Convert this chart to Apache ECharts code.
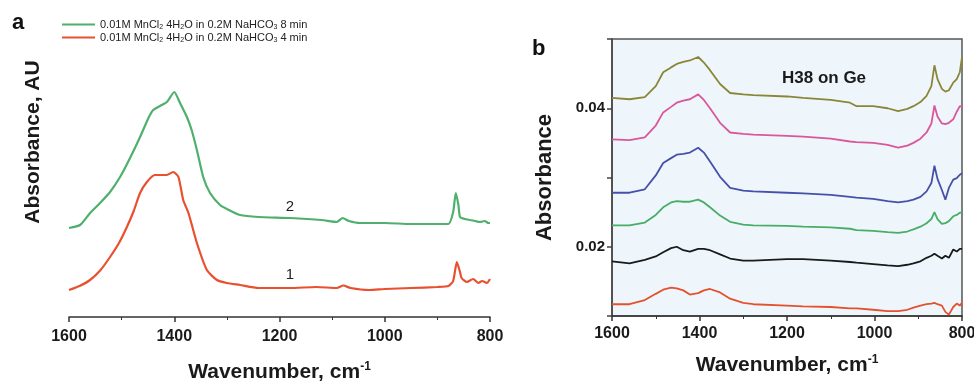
<!DOCTYPE html>
<html>
<head>
<meta charset="utf-8">
<script src="https://cdn.jsdelivr.net/npm/echarts@6/dist/echarts.min.js"></script>
<style>
  html, body { margin: 0; padding: 0; background: #fff; }
  #chart { width: 974px; height: 382px; }
</style>
</head>
<body>
<div id="chart"></div>
<script>
// panel a: MnCl2 on NaHCO3, arbitrary absorbance units
const wnA8 = [1600,1579,1560,1541,1522,1503,1484,1465,1449,1440,1427,1414,1400,1389,1376,1367,1357,1345,1332,1313,1300,1275,1240,1180,1120,1091,1080,1068,1047,1000,950,900,879,870,865,860,857,848,838,828,819,810,803,800]
const absA8 = [0.89,0.92,1.04,1.14,1.25,1.40,1.59,1.80,1.99,2.07,2.11,2.15,2.25,2.14,2.00,1.87,1.67,1.40,1.24,1.12,1.08,1.02,1.00,0.99,0.97,0.95,0.99,0.96,0.94,0.94,0.93,0.93,0.93,1.05,1.24,1.12,1.00,0.98,0.97,0.96,0.95,0.96,0.94,0.94]
const wnA4 = [1600,1580,1560,1540,1522,1505,1490,1477,1465,1452,1437,1425,1414,1402,1392,1383,1373,1357,1338,1319,1300,1275,1240,1180,1130,1091,1079,1065,1030,1000,950,900,879,870,863,857,854,844,832,822,815,806,800]
const absA4 = [0.27,0.31,0.37,0.47,0.60,0.74,0.90,1.06,1.24,1.35,1.42,1.42,1.42,1.45,1.40,1.17,1.04,0.74,0.47,0.37,0.34,0.32,0.29,0.29,0.30,0.29,0.315,0.29,0.27,0.28,0.29,0.30,0.31,0.36,0.55,0.45,0.39,0.35,0.38,0.34,0.36,0.34,0.38]
const namesA = ['8 min', '4 min']
const curveLabelsA = [[1180, 1.10, '2'], [1180, 0.42, '1']]

// panel b: H38 on Ge, shared wavenumber grid
const wnB = [1600,1560,1525,1500,1483,1465,1452,1437,1422,1403,1390,1376,1353,1330,1300,1277,1200,1163,1100,1056,1041,1003,970,946,925,911,895,881,870,863,856,846,838,830,820,812,805,800]
const olive = [.0415,.0413,.0416,.0432,.0452,.0459,.0464,.0467,.0469,.0474,.0466,.0455,.0435,.0422,.0420,.0419,.0417,.0415,.0412,.0408,.0403,.0403,.0400,.0396,.0399,.0403,.0409,.0418,.0432,.0462,.0442,.0428,.0424,.0426,.0437,.0442,.0452,.0474]
const pink = [.0355,.0354,.0358,.0375,.0394,.0402,.0408,.0411,.0413,.0420,.0412,.0400,.0379,.0365,.0363,.0362,.0360,.0359,.0356,.0352,.0351,.0350,.0347,.0343,.0346,.0350,.0356,.0365,.0378,.0404,.0388,.0378,.0377,.0379,.0384,.0395,.0403,.0402]
const blue = [.0278,.0278,.0283,.0303,.0321,.0328,.0333,.0334,.0336,.0343,.0336,.0323,.0301,.0285,.0281,.0280,.0278,.0277,.0275,.0272,.0271,.0269,.0266,.0264,.0266,.0268,.0272,.0280,.0292,.0317,.0298,.0282,.0268,.0285,.0297,.0299,.0304,.0306]
const green = [.0231,.0231,.0235,.0246,.0257,.0264,.0266,.0265,.0265,.0268,.0264,.0257,.0245,.0236,.0232,.0231,.0230,.0229,.0228,.0226,.0224,.0223,.0221,.0220,.0222,.0225,.0229,.0234,.0240,.0250,.0240,.0233,.0234,.0237,.0244,.0246,.0249,.0250]
const black = [.0179,.0176,.0181,.0186,.0192,.0198,.0200,.0195,.0193,.0197,.0197,.0195,.0189,.0183,.0180,.0180,.0182,.0182,.0180,.0178,.0177,.0175,.0173,.0172,.0174,.0176,.0179,.0184,.0187,.0190,.0187,.0183,.0187,.0184,.0196,.0193,.0197,.0197]
const red = [.0117,.0117,.0123,.0132,.0138,.0141,.0140,.0137,.0131,.0133,.0137,.0139,.0134,.0125,.0119,.0117,.0115,.0114,.0113,.0111,.0111,.0109,.0107,.0107,.0109,.0112,.0115,.0117,.0118,.0119,.0117,.0115,.0106,.0102,.0113,.0118,.0115,.0119]
const yTicksB = [0.02, 0.04]

const FONT = 'Liberation Sans, Arial, sans-serif'
const zip = (xs, ys) => xs.map((x, i) => [x, ys[i]])

function xAxisFor(grid, gap, margin) {
    return {
        gridIndex: grid,
        type: 'value',
        min: 800,
        max: 1600,
        interval: 200,
        inverse: true,
        axisLine: { show: true, onZero: false, lineStyle: { color: '#333', width: 1.5 } },
        axisTick: { show: true, length: 5, lineStyle: { color: '#333', width: 1.5 } },
        minorTick: { show: true, splitNumber: 2, length: 3, lineStyle: { color: '#333' } },
        axisLabel: { color: '#1a1a1a', fontSize: 16, fontWeight: 'bold', fontFamily: FONT, margin: margin, formatter: v => String(v) },
        splitLine: { show: false },
        name: '{t|Wavenumber, cm}{s|-1}',
        nameLocation: 'middle',
        nameGap: gap,
        nameTextStyle: {
            rich: {
                t: { fontSize: 21, fontWeight: 'bold', fontFamily: FONT, color: '#1a1a1a' },
                s: { fontSize: 12, fontWeight: 'bold', fontFamily: FONT, color: '#1a1a1a', padding: [0, 0, 10, 0] }
            }
        }
    }
}

const lineB = (data, color) => ({
    type: 'line', xAxisIndex: 1, yAxisIndex: 1, data: zip(wnB, data),
    showSymbol: false, lineStyle: { color: color, width: 1.8 }, itemStyle: { color: color }
})

const option = {
    animation: false,
    grid: [
        { left: 69, right: 484, top: 80, bottom: 65, outerBoundsMode: 'none' },
        { left: 612, right: 12, top: 39, bottom: 66, outerBoundsMode: 'none', show: true, backgroundColor: '#eef6fb', borderColor: '#555', borderWidth: 1.5 }
    ],
    legend: {
        orient: 'vertical',
        left: 57,
        top: 13,
        icon: 'rect',
        itemWidth: 33,
        itemHeight: 2,
        itemGap: 0,
        data: namesA,
        formatter: n => '0.01M MnCl{s|2} 4H{s|2}O in 0.2M NaHCO{s|3} ' + n,
        textStyle: {
            fontSize: 11, fontFamily: FONT, color: '#222', lineHeight: 9,
            rich: { s: { fontSize: 7, fontFamily: FONT, color: '#222', padding: [6, 0, 0, 0], lineHeight: 9 } }
        }
    },
    xAxis: [xAxisFor(0, 44, 12), xAxisFor(1, 38, 10)],
    yAxis: [
        { gridIndex: 0, type: 'value', min: 0, max: 2.37, axisLine: { show: false }, axisTick: { show: false }, axisLabel: { show: false }, splitLine: { show: false } },
        {
            gridIndex: 1, type: 'value', min: 0.01, max: 0.05, interval: 0.01,
            axisLine: { show: true, lineStyle: { color: '#444', width: 1.5 } },
            axisTick: { show: true, length: 5, lineStyle: { color: '#444', width: 1.5 } },
            axisLabel: {
                color: '#1a1a1a', fontSize: 15, fontWeight: 'bold', fontFamily: FONT, margin: 7,
                formatter: v => yTicksB.some(t => Math.abs(t - v) < 1e-6) ? v.toFixed(2) : ''
            },
            splitLine: { show: false },
            name: 'Absorbance',
            nameLocation: 'middle',
            nameGap: 56,
            nameTextStyle: { fontSize: 22, fontWeight: 'bold', fontFamily: FONT, color: '#1a1a1a' }
        }
    ],
    graphic: [
        { type: 'text', left: 12, top: 12, style: { text: 'a', font: 'bold 22px ' + FONT, fill: '#111' } },
        { type: 'text', left: 532, top: 38, style: { text: 'b', font: 'bold 22px ' + FONT, fill: '#111' } },
        { type: 'text', left: 782, top: 70, style: { text: 'H38 on Ge', font: 'bold 17px ' + FONT, fill: '#1a1a1a' } },
        {
            type: 'text', x: 33, y: 142, rotation: Math.PI / 2,
            style: { text: 'Absorbance, AU', font: 'bold 21px ' + FONT, fill: '#1a1a1a', align: 'center', verticalAlign: 'middle', textAlign: 'center', textVerticalAlign: 'middle' }
        }
    ],
    series: [
        {
            name: namesA[0], type: 'line', xAxisIndex: 0, yAxisIndex: 0, data: zip(wnA8, absA8),
            showSymbol: false, smooth: 0.2, lineStyle: { color: '#4fb06d', width: 2.2 }, itemStyle: { color: '#4fb06d' },
            markPoint: {
                symbolSize: 0,
                label: { show: true, position: 'inside', fontSize: 15, fontFamily: FONT, color: '#222', formatter: p => p.data.name },
                data: [{ coord: curveLabelsA[0].slice(0, 2), name: curveLabelsA[0][2] }]
            }
        },
        {
            name: namesA[1], type: 'line', xAxisIndex: 0, yAxisIndex: 0, data: zip(wnA4, absA4),
            showSymbol: false, smooth: 0.2, lineStyle: { color: '#e8502f', width: 2.2 }, itemStyle: { color: '#e8502f' },
            markPoint: {
                symbolSize: 0,
                label: { show: true, position: 'inside', fontSize: 15, fontFamily: FONT, color: '#222', formatter: p => p.data.name },
                data: [{ coord: curveLabelsA[1].slice(0, 2), name: curveLabelsA[1][2] }]
            }
        },
        lineB(olive, '#8a8637'),
        lineB(pink, '#d9579a'),
        lineB(blue, '#4650a8'),
        lineB(green, '#48ad67'),
        lineB(black, '#1a1a1a'),
        lineB(red, '#e4512f')
    ]
}

const chart = echarts.init(document.getElementById('chart'))
chart.setOption(option)
</script>
</body>
</html>
